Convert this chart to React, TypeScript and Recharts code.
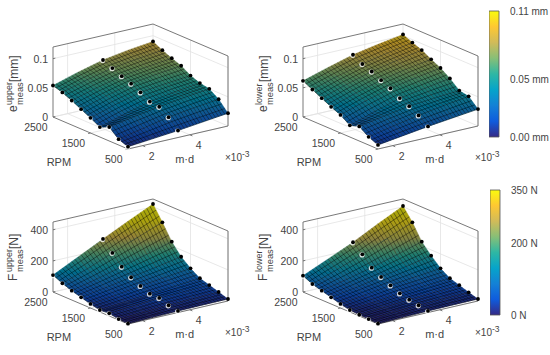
import React from 'react';
import { ScatterChart, Scatter, XAxis, YAxis, BarChart, Bar } from 'recharts';

// surface heights, one list per m·d column, rows run along rpmValues
const rpmValues = [500, 750, 1000, 1250, 1500, 1750, 2000, 2250, 2500];
const mdValues = [1.38, 2.44, 3.5, 4.56, 5.62];
const measuredColumns = [0, 2, 4];

const eUpper = [
  [0.004, 0.01, 0.024, 0.017, 0.026, 0.034, 0.042, 0.049, 0.054],
  [0.008, 0.019, 0.032, 0.03, 0.039, 0.047, 0.054, 0.061, 0.067],
  [0.012, 0.028, 0.039, 0.041, 0.05, 0.058, 0.064, 0.071, 0.078],
  [0.017, 0.034, 0.045, 0.048, 0.055, 0.064, 0.07, 0.077, 0.085],
  [0.022, 0.039, 0.05, 0.053, 0.059, 0.069, 0.075, 0.082, 0.09],
];
const eLower = [
  [0.007, 0.014, 0.025, 0.02, 0.031, 0.038, 0.046, 0.054, 0.062],
  [0.013, 0.023, 0.033, 0.034, 0.045, 0.052, 0.06, 0.067, 0.075],
  [0.019, 0.031, 0.04, 0.047, 0.057, 0.064, 0.072, 0.078, 0.087],
  [0.024, 0.038, 0.044, 0.054, 0.065, 0.073, 0.081, 0.087, 0.095],
  [0.029, 0.044, 0.047, 0.061, 0.072, 0.08, 0.089, 0.095, 0.102],
];
const fUpper = [
  [2, 6, 17, 13, 26, 43, 60, 82, 109],
  [6, 13, 29, 28, 46, 70, 98, 138, 188],
  [10, 21, 42, 44, 68, 98, 140, 203, 267],
  [12, 27, 46, 56, 87, 126, 183, 265, 344],
  [13, 32, 51, 69, 107, 156, 227, 326, 418],
];
const fLower = [
  [2, 6, 8, 13, 26, 43, 60, 77, 105],
  [6, 13, 19, 29, 48, 70, 96, 134, 175],
  [10, 21, 31, 46, 72, 100, 134, 194, 246],
  [12, 26, 41, 57, 89, 131, 180, 260, 328],
  [13, 30, 50, 69, 107, 163, 227, 326, 405],
];

const eTicks = [0, 0.05, 0.1];
const fTicks = [0, 200, 400];
const mdTicks = [2, 4];
const rpmTicks = [500, 1500, 2500];
const parula = ['#352a87', '#0f5cdd', '#1481d6', '#06a4ca', '#2eb7a4', '#87bf77', '#d1bb59', '#fec832', '#f9fb0e'];

const FONT = '"Liberation Sans", Arial, sans-serif';
const TEXT = '#444444';
const W = 265;
const H = 178;
const MD_CELLS = 8; // mesh cells per table column
const RPM_CELLS = 3;
const SURFACE_DIM = 0.68; // the dense black mesh darkens the reference surface

const hex = (s: string) => [1, 3, 5].map((i) => parseInt(s.slice(i, i + 2), 16));
const colorAt = (t: number) => {
  const v = Math.max(0, Math.min(1, t)) * (parula.length - 1);
  const i = Math.min(parula.length - 2, Math.floor(v));
  const a = hex(parula[i]);
  const b = hex(parula[i + 1]);
  const c = a.map((x, k) => Math.round((x + (b[k] - x) * (v - i)) * SURFACE_DIM));
  return `rgb(${c[0]},${c[1]},${c[2]})`;
};

const MD_MIN = mdValues[0];
const MD_MAX = mdValues[mdValues.length - 1];

const makeProject = (zMax: number) => (md: number, rpm: number, z: number) => {
  const a = (md - MD_MIN) / (MD_MAX - MD_MIN);
  const b = (rpm - 500) / 2000;
  return { x: 128 + 100 * a - 75 * b, y: 149 - 23 * a - 32 * b - (z / zMax) * 70 };
};

const noDot = () => null;

// fills the surface: gets every node through the chart scales, then builds coloured quads
const surfaceLine = (id: string, cMax: number, table: number[][]) => (props: any) => {
  const pts = props.points;
  const nc = mdValues.length;
  const nr = rpmValues.length;
  const at = (r: number, c: number) => pts[c * nr + r];
  const defs: React.ReactNode[] = [];
  const polys: React.ReactNode[] = [];
  let mesh = '';
  for (let r = nr - 2; r >= 0; r--) {
    for (let c = 0; c < nc - 1; c++) {
      const A = at(r, c);
      const B = at(r, c + 1);
      const C = at(r + 1, c + 1);
      const D = at(r + 1, c);
      const zs = [table[c][r], table[c + 1][r], table[c + 1][r + 1], table[c][r + 1]];
      const u = { x: (B.x - A.x + C.x - D.x) / 2, y: (B.y - A.y + C.y - D.y) / 2 };
      const v = { x: (D.x - A.x + C.x - B.x) / 2, y: (D.y - A.y + C.y - B.y) / 2 };
      const dzu = (zs[1] - zs[0] + zs[2] - zs[3]) / 2;
      const dzv = (zs[3] - zs[0] + zs[2] - zs[1]) / 2;
      const det = u.x * v.y - u.y * v.x;
      const gx = (dzu * v.y - dzv * u.y) / det;
      const gy = (u.x * dzv - v.x * dzu) / det;
      const g2 = gx * gx + gy * gy || 1e-12;
      const zc = (zs[0] + zs[1] + zs[2] + zs[3]) / 4;
      const h = Math.max(...zs.map((z) => Math.abs(z - zc)));
      const cx = (A.x + B.x + C.x + D.x) / 4;
      const cy = (A.y + B.y + C.y + D.y) / 4;
      const key = `${id}-${r}-${c}`;
      defs.push(
        <linearGradient
          key={`g${key}`}
          id={`g${key}`}
          gradientUnits="userSpaceOnUse"
          x1={cx - (gx / g2) * h}
          y1={cy - (gy / g2) * h}
          x2={cx + (gx / g2) * h}
          y2={cy + (gy / g2) * h}
        >
          <stop offset="0" stopColor={colorAt((zc - h) / cMax)} />
          <stop offset="0.5" stopColor={colorAt(zc / cMax)} />
          <stop offset="1" stopColor={colorAt((zc + h) / cMax)} />
        </linearGradient>,
      );
      polys.push(
        <polygon
          key={key}
          points={`${A.x},${A.y} ${B.x},${B.y} ${C.x},${C.y} ${D.x},${D.y}`}
          fill={`url(#g${key})`}
          stroke={colorAt(zc / cMax)}
          strokeWidth={0.4}
        />,
      );
      // hatch of the fine mesh inside this quad, drawing only, no data in it
      for (let k = 0; k < MD_CELLS; k++) {
        const t = k / MD_CELLS;
        mesh += `M${A.x + (B.x - A.x) * t} ${A.y + (B.y - A.y) * t}L${D.x + (C.x - D.x) * t} ${D.y + (C.y - D.y) * t}`;
      }
      for (let k = 0; k < RPM_CELLS; k++) {
        const t = k / RPM_CELLS;
        mesh += `M${A.x + (D.x - A.x) * t} ${A.y + (D.y - A.y) * t}L${B.x + (C.x - B.x) * t} ${B.y + (C.y - B.y) * t}`;
      }
    }
  }
  return (
    <g filter={`url(#soft${id})`}>
      <defs>
        {defs}
        <filter id={`soft${id}`} x="-5%" y="-5%" width="110%" height="110%">
          <feGaussianBlur stdDeviation={0.4} />
        </filter>
      </defs>
      {polys}
      <path d={mesh} fill="none" stroke="#000000" strokeOpacity={0.45} strokeWidth={0.9} />
    </g>
  );
};

const measuredDot = (props: any) => {
  const { cx, cy, payload } = props;
  return (
    <g>
      {payload.halo && <circle cx={cx - 0.4} cy={cy + 0.6} r={2.6} fill="#ffffff" fillOpacity={0.8} />}
      <circle cx={cx} cy={cy} r={1.9} fill="#000000" />
    </g>
  );
};

const tickText = (props: any) => {
  const { cx, cy, payload } = props;
  return (
    <text
      x={cx + payload.dx}
      y={cy + payload.dy}
      textAnchor={payload.anchor}
      fontFamily={FONT}
      fontSize={payload.size}
      fill={TEXT}
    >
      {payload.label}
    </text>
  );
};

interface PanelProps {
  id: string;
  left: number;
  top: number;
  table: number[][];
  zTicks: number[];
  zMax: number;
  cMax: number;
  symbol: string;
  sup: string;
  unit: string;
}

const Panel = ({ id, left, top, table, zTicks, zMax, cMax, symbol, sup, unit }: PanelProps) => {
  const project = makeProject(zMax);

  const surface = mdValues.flatMap((md, c) => rpmValues.map((rpm, r) => project(md, rpm, table[c][r])));
  const dots = measuredColumns.flatMap((c) =>
    rpmValues.map((rpm, r) => ({ ...project(mdValues[c], rpm, table[c][r]), halo: c !== 4 })),
  );

  const grid: { x: number; y: number }[][] = [
    ...zTicks.map((z) => [project(MD_MIN, 2500, z), project(MD_MAX, 2500, z), project(MD_MAX, 500, z)]),
    ...mdTicks.map((m) => [project(m, 500, 0), project(m, 2500, 0), project(m, 2500, zMax)]),
    ...rpmTicks.map((r) => [project(MD_MIN, r, 0), project(MD_MAX, r, 0), project(MD_MAX, r, zMax)]),
  ];
  const box = [
    [project(MD_MIN, 2500, 0), project(MD_MIN, 2500, zMax), project(MD_MAX, 2500, zMax), project(MD_MAX, 500, zMax), project(MD_MAX, 500, 0)],
    [project(MD_MIN, 2500, 0), project(MD_MIN, 500, 0), project(MD_MAX, 500, 0)],
    ...zTicks.map((z) => [project(MD_MIN, 2500, z), project(MD_MIN + 0.1, 2500, z)]),
    ...mdTicks.map((m) => [project(m, 500, 0), project(m, 430, 0)]),
    ...rpmTicks.slice(0, 2).map((r) => [project(MD_MIN, r, 0), project(MD_MIN - 0.1, r, 0)]),
  ];

  const labels = [
    ...zTicks.map((z) => ({ ...project(MD_MIN, 2500, z), label: String(z), dx: -5, dy: 4, anchor: 'end', size: 10.5 })),
    ...mdTicks.map((m) => ({ ...project(m, 500, 0), label: String(m), dx: 9, dy: 14, anchor: 'middle', size: 10.5 })),
    ...rpmTicks.map((r) => ({ ...project(MD_MIN, r, 0), label: String(r), dx: -5.5, dy: 14, anchor: 'end', size: 10.5 })),
    { ...project(MD_MIN + 0.8, 500, 0), label: 'RPM', dx: -88, dy: 21, anchor: 'middle', size: 11 },
    { ...project(MD_MIN + 2.4, 500, 0), label: 'm·d', dx: 0, dy: 27, anchor: 'middle', size: 11 },
  ];

  const isForce = symbol === 'F';
  const labelY = isForce ? 106 : 112;
  const supX = isForce ? 9 : 7;
  const unitX = isForce ? 32 : 30;

  return (
    <div style={{ position: 'absolute', left, top }}>
      <ScatterChart width={W} height={H} margin={{ top: 0, right: 0, bottom: 0, left: 0 }}>
        <XAxis type="number" dataKey="x" domain={[0, W]} hide />
        <YAxis type="number" dataKey="y" domain={[0, H]} reversed hide />
        {grid.map((line, i) => (
          <Scatter
            key={`grid${i}`}
            data={line}
            line={{ stroke: '#e2e2e2', strokeWidth: 0.8 }}
            shape={noDot}
            isAnimationActive={false}
          />
        ))}
        {box.map((line, i) => (
          <Scatter
            key={`box${i}`}
            data={line}
            line={{ stroke: '#6a6a6a', strokeWidth: 0.9 }}
            shape={noDot}
            isAnimationActive={false}
          />
        ))}
        <Scatter data={surface} line={surfaceLine(id, cMax, table)} shape={noDot} isAnimationActive={false} />
        <Scatter data={dots} shape={measuredDot} isAnimationActive={false} />
        <Scatter data={labels} shape={tickText} isAnimationActive={false} />
        <g transform={`translate(17 ${labelY}) rotate(-90)`} fontFamily={FONT} fill={TEXT}>
          <text x={0} y={0} fontSize={12}>
            {symbol}
          </text>
          <text x={supX} y={-5.5} fontSize={9}>
            {sup}
          </text>
          <text x={supX} y={5.5} fontSize={9.3}>
            meas
          </text>
          <text x={unitX} y={1} fontSize={12}>
            {unit}
          </text>
        </g>
        <text x={225} y={161} fontFamily={FONT} fontSize={10} fill={TEXT}>
          ×10
          <tspan dy={-4} fontSize={8.5}>
            -3
          </tspan>
        </text>
      </ScatterChart>
    </div>
  );
};

const ColorBar = ({ id, left, top, height, max, ticks, format }: any) => (
  <div style={{ position: 'absolute', left, top }}>
    <BarChart
      width={60}
      height={height + 20}
      data={[{ name: id, value: max }]}
      margin={{ top: 10, right: 0, bottom: 10, left: 0 }}
      barCategoryGap={0}
    >
      <defs>
        <linearGradient id={`bar${id}`} x1="0" y1="1" x2="0" y2="0">
          {parula.map((c, i) => (
            <stop key={c} offset={i / (parula.length - 1)} stopColor={c} />
          ))}
        </linearGradient>
      </defs>
      <XAxis dataKey="name" hide />
      <YAxis
        orientation="right"
        type="number"
        domain={[0, max]}
        ticks={ticks}
        interval={0}
        width={50}
        tickFormatter={format}
        axisLine={false}
        tickLine={false}
        tick={(p: any) => (
          <text x={p.x + 3} y={p.y + 3.5} fontFamily={FONT} fontSize={10} fill={TEXT}>
            {format(p.payload.value)}
          </text>
        )}
      />
      <Bar dataKey="value" fill={`url(#bar${id})`} stroke="#555555" strokeWidth={0.8} isAnimationActive={false} />
    </BarChart>
  </div>
);

export default function App() {
  return (
    <div style={{ position: 'absolute', left: 0, top: 0, width: 550, height: 355, background: '#fff', overflow: 'hidden' }}>
      <Panel id="a" left={0} top={0} table={eUpper} zTicks={eTicks} zMax={0.12} cMax={0.11} symbol="e" sup="upper" unit="[mm]" />
      <Panel id="b" left={250} top={0} table={eLower} zTicks={eTicks} zMax={0.12} cMax={0.11} symbol="e" sup="lower" unit="[mm]" />
      <Panel id="c" left={0} top={175} table={fUpper} zTicks={fTicks} zMax={450} cMax={350} symbol="F" sup="upper" unit="[N]" />
      <Panel id="d" left={250} top={175} table={fLower} zTicks={fTicks} zMax={450} cMax={350} symbol="F" sup="lower" unit="[N]" />
      <ColorBar id="e" left={489} top={1} height={126} max={0.11} ticks={[0, 0.05, 0.11]} format={(v: number) => `${v.toFixed(2)} mm`} />
      <ColorBar id="f" left={490} top={180} height={125} max={350} ticks={[0, 200, 350]} format={(v: number) => `${v} N`} />
    </div>
  );
}
